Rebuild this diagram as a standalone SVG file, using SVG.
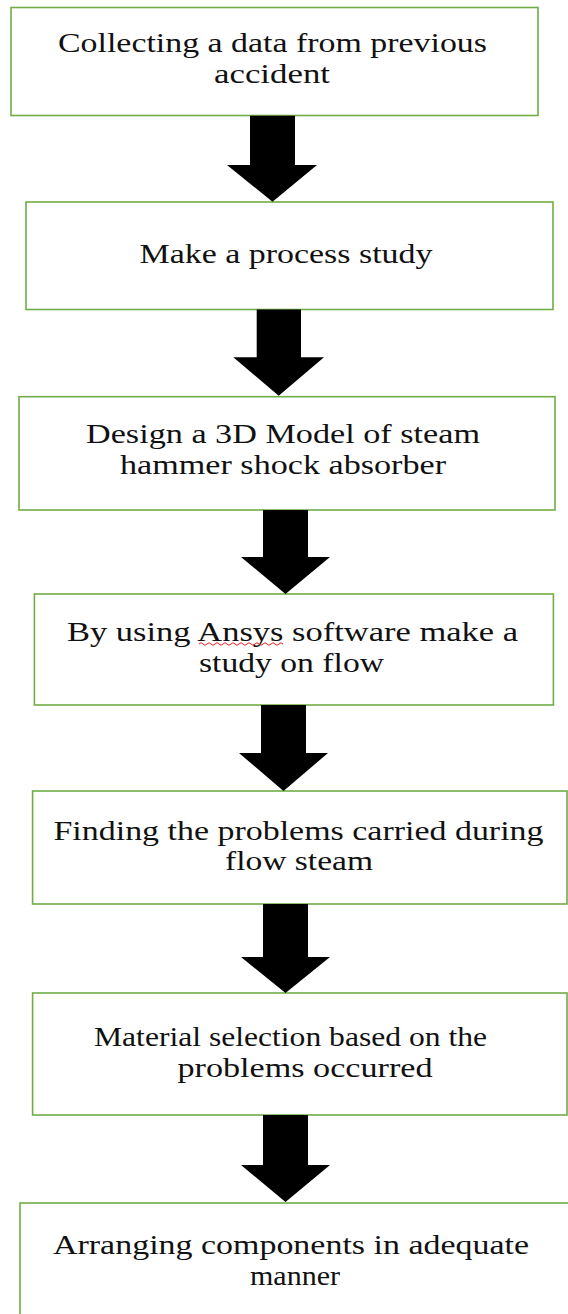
<svg xmlns="http://www.w3.org/2000/svg" width="568" height="1314" viewBox="0 0 568 1314">
<style>
.box{fill:#ffffff;stroke:#70AD47;stroke-width:1.6}
.t{font-family:"Liberation Serif","Times New Roman",serif;font-size:28px;fill:#111111;text-anchor:middle}
.arr{fill:#000000}
</style>
<rect width="568" height="1314" fill="#ffffff"/>
<g id="node1">
<rect class="box" x="11" y="7.5" width="527" height="108"/>
<text class="t" x="272.5" y="52" textLength="429" lengthAdjust="spacingAndGlyphs">Collecting a data from previous</text>
<text class="t" x="272" y="83" textLength="116" lengthAdjust="spacingAndGlyphs">accident</text>
</g>
<g id="node2">
<rect class="box" x="26" y="202" width="527" height="107.5"/>
<text class="t" x="286" y="263" textLength="293" lengthAdjust="spacingAndGlyphs">Make a process study</text>
</g>
<g id="node3">
<rect class="box" x="19" y="396.7" width="536" height="113.3"/>
<text class="t" x="283" y="443" textLength="394" lengthAdjust="spacingAndGlyphs">Design a 3D Model of steam</text>
<text class="t" x="283" y="474" textLength="326" lengthAdjust="spacingAndGlyphs">hammer shock absorber</text>
</g>
<g id="node4">
<rect class="box" x="34.4" y="594" width="519" height="111"/>
<text class="t" x="292.5" y="641" textLength="451" lengthAdjust="spacingAndGlyphs">By using Ansys software make a</text>
<path d="M199,644 q2,-2.5 4,0 t4,0 t4,0 t4,0 t4,0 t4,0 t4,0 t4,0 t4,0 t4,0 t4,0 t4,0 t4,0 t4,0 t4,0 t4,0 t4,0 t4,0 t4,0 t4,0 t4,0" fill="none" stroke="#e02020" stroke-width="1"/>
<text class="t" x="291.5" y="672" textLength="185" lengthAdjust="spacingAndGlyphs">study on flow</text>
</g>
<g id="node5">
<rect class="box" x="32.6" y="791" width="534.4" height="113"/>
<text class="t" x="298.5" y="840" textLength="490" lengthAdjust="spacingAndGlyphs">Finding the problems carried during</text>
<text class="t" x="299" y="870" textLength="148" lengthAdjust="spacingAndGlyphs">flow steam</text>
</g>
<g id="node6">
<rect class="box" x="32.6" y="993" width="534.4" height="122"/>
<text class="t" x="290.5" y="1046" textLength="393" lengthAdjust="spacingAndGlyphs">Material selection based on the</text>
<text class="t" x="305" y="1077" textLength="255" lengthAdjust="spacingAndGlyphs">problems occurred</text>
</g>
<g id="node7">
<rect class="box" x="20" y="1203" width="560" height="130"/>
<text class="t" x="291" y="1254" textLength="476" lengthAdjust="spacingAndGlyphs">Arranging components in adequate</text>
<text class="t" x="295" y="1285" textLength="90" lengthAdjust="spacingAndGlyphs">manner</text>
</g>
<g id="connectors">
<polygon class="arr" points="250,115.7 295,115.7 295,165 317,165 272.5,201.7 227,165 250,165"/>
<polygon class="arr" points="256.7,309.5 301,309.5 301,357.3 324,357.3 278.7,395.7 233.3,357.3 256.7,357.3"/>
<polygon class="arr" points="263,510 308,510 308,557 330,557 285.5,594 241,557 263,557"/>
<polygon class="arr" points="261,705 306,705 306,753 328,753 283.5,791 239,753 261,753"/>
<polygon class="arr" points="263,904 308,904 308,957 330,957 285.5,993 241,957 263,957"/>
<polygon class="arr" points="263,1115 308,1115 308,1165 330,1165 285.5,1202 241,1165 263,1165"/>
</g>
</svg>
